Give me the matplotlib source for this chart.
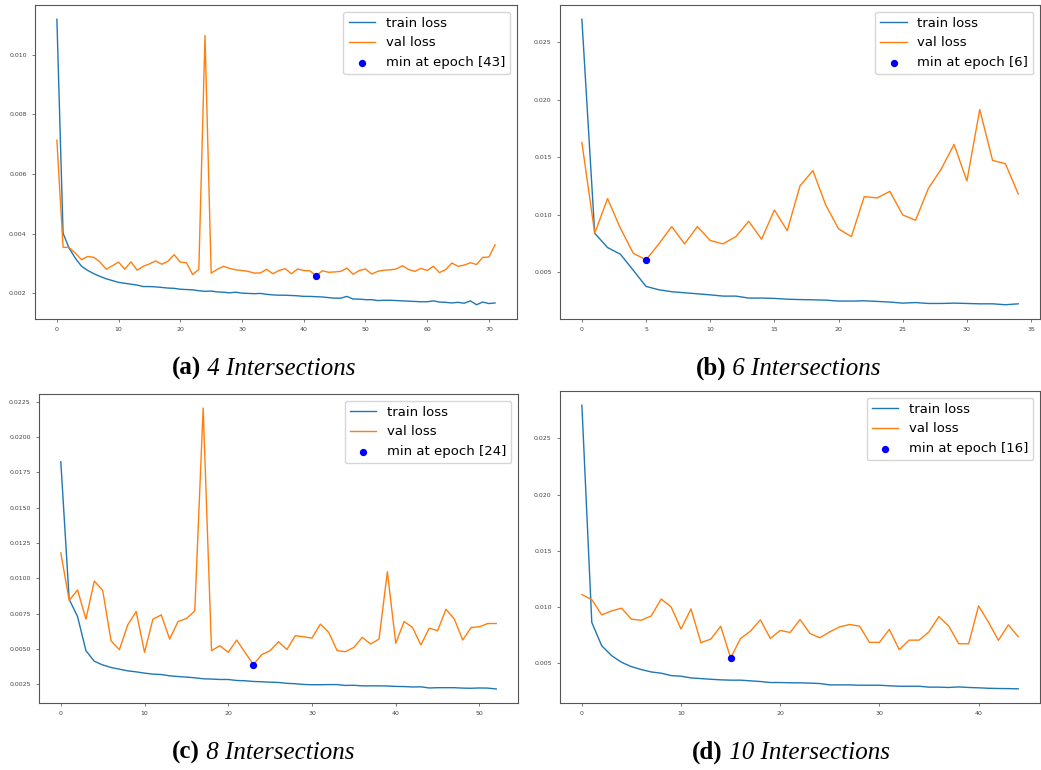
import numpy as np
import matplotlib
matplotlib.use('Agg')
import matplotlib.pyplot as plt

# =============================================================================
# DATA
# =============================================================================

train_a = [0.01119, 0.00401, 0.00350, 0.00317, 0.00290, 0.00276, 0.00265, 0.00256,
           0.00248, 0.00242, 0.00236, 0.00233, 0.00230, 0.00227, 0.00222, 0.00222,
           0.00221, 0.00219, 0.00217, 0.00216, 0.00213, 0.00212, 0.00211, 0.00208,
           0.00206, 0.00207, 0.00204, 0.00203, 0.00201, 0.00203, 0.00200, 0.00199,
           0.00198, 0.00199, 0.00196, 0.00194, 0.00193, 0.00193, 0.00192, 0.00191,
           0.00189, 0.00189, 0.00188, 0.00187, 0.00185, 0.00183, 0.00183, 0.00189,
           0.00180, 0.00180, 0.00178, 0.00178, 0.00175, 0.00176, 0.00176, 0.00175,
           0.00174, 0.00173, 0.00172, 0.00171, 0.00171, 0.00174, 0.00170, 0.00169,
           0.00167, 0.00169, 0.00166, 0.00174, 0.00161, 0.00170, 0.00165, 0.00167]
val_a = [0.00713, 0.00354, 0.00353, 0.00334, 0.00312, 0.00323, 0.00320, 0.00304,
         0.00280, 0.00292, 0.00304, 0.00280, 0.00305, 0.00277, 0.00290, 0.00298,
         0.00308, 0.00297, 0.00307, 0.00329, 0.00304, 0.00302, 0.00262, 0.00280,
         0.01065, 0.00267, 0.00280, 0.00290, 0.00283, 0.00278, 0.00276, 0.00273,
         0.00267, 0.00268, 0.00280, 0.00265, 0.00276, 0.00282, 0.00265, 0.00281,
         0.00276, 0.00275, 0.00258, 0.00275, 0.00270, 0.00271, 0.00273, 0.00284,
         0.00263, 0.00276, 0.00281, 0.00264, 0.00273, 0.00277, 0.00278, 0.00281,
         0.00292, 0.00279, 0.00273, 0.00283, 0.00276, 0.00290, 0.00269, 0.00279,
         0.00301, 0.00290, 0.00294, 0.00302, 0.00296, 0.00320, 0.00321, 0.00362]

train_b = [0.02697, 0.00838, 0.00714, 0.00656, 0.00517, 0.00376, 0.00347, 0.00330,
           0.00321, 0.00312, 0.00303, 0.00292, 0.00292, 0.00275, 0.00275, 0.00272,
           0.00265, 0.00262, 0.00260, 0.00257, 0.00249, 0.00249, 0.00251, 0.00246,
           0.00240, 0.00231, 0.00236, 0.00228, 0.00228, 0.00231, 0.00228, 0.00225,
           0.00225, 0.00217, 0.00225]
val_b = [0.01627, 0.00838, 0.01139, 0.00882, 0.00665, 0.00607, 0.00746, 0.00896,
         0.00746, 0.00896, 0.00775, 0.00746, 0.00809, 0.00942, 0.00786, 0.01040,
         0.00861, 0.01251, 0.01382, 0.01084, 0.00876, 0.00809, 0.01156, 0.01145,
         0.01202, 0.00997, 0.00951, 0.01228, 0.01396, 0.01610, 0.01292, 0.01913,
         0.01471, 0.01442, 0.01179]

train_c = [0.01825, 0.00852, 0.00730, 0.00489, 0.00414, 0.00388, 0.00370, 0.00358,
           0.00346, 0.00339, 0.00330, 0.00323, 0.00320, 0.00311, 0.00306, 0.00302,
           0.00297, 0.00290, 0.00288, 0.00285, 0.00285, 0.00278, 0.00276, 0.00271,
           0.00269, 0.00266, 0.00264, 0.00258, 0.00255, 0.00250, 0.00248, 0.00248,
           0.00249, 0.00249, 0.00243, 0.00244, 0.00240, 0.00240, 0.00240, 0.00239,
           0.00236, 0.00235, 0.00232, 0.00233, 0.00225, 0.00227, 0.00227, 0.00227,
           0.00224, 0.00223, 0.00225, 0.00224, 0.00218]
val_c = [0.01180, 0.00845, 0.00918, 0.00712, 0.00981, 0.00916, 0.00559, 0.00496,
         0.00672, 0.00766, 0.00477, 0.00712, 0.00742, 0.00571, 0.00695, 0.00716,
         0.00770, 0.02205, 0.00489, 0.00524, 0.00477, 0.00564, 0.00477, 0.00390,
         0.00461, 0.00489, 0.00552, 0.00497, 0.00595, 0.00587, 0.00578, 0.00677,
         0.00618, 0.00489, 0.00482, 0.00512, 0.00583, 0.00536, 0.00571, 0.01047,
         0.00541, 0.00695, 0.00653, 0.00529, 0.00648, 0.00630, 0.00782, 0.00712,
         0.00564, 0.00653, 0.00658, 0.00681, 0.00681]

train_d = [0.02795, 0.00863, 0.00656, 0.00568, 0.00509, 0.00470, 0.00444, 0.00423,
           0.00412, 0.00391, 0.00385, 0.00370, 0.00364, 0.00358, 0.00353, 0.00350,
           0.00350, 0.00344, 0.00338, 0.00329, 0.00329, 0.00327, 0.00326, 0.00324,
           0.00320, 0.00308, 0.00308, 0.00308, 0.00305, 0.00305, 0.00305, 0.00300,
           0.00296, 0.00296, 0.00296, 0.00288, 0.00288, 0.00285, 0.00290, 0.00285,
           0.00282, 0.00278, 0.00276, 0.00275, 0.00273]
val_d = [0.01111, 0.01066, 0.00931, 0.00966, 0.00990, 0.00892, 0.00883, 0.00922,
         0.01072, 0.01001, 0.00804, 0.00984, 0.00683, 0.00715, 0.00830, 0.00547,
         0.00721, 0.00786, 0.00886, 0.00721, 0.00792, 0.00774, 0.00889, 0.00765,
         0.00727, 0.00780, 0.00824, 0.00845, 0.00830, 0.00686, 0.00686, 0.00801,
         0.00621, 0.00706, 0.00706, 0.00780, 0.00916, 0.00830, 0.00674, 0.00674,
         0.01010, 0.00866, 0.00704, 0.00842, 0.00736]

letters = ['(a)', '(b)', '(c)', '(d)']
captions = ['4 Intersections', '6 Intersections', '8 Intersections', '10 Intersections']

# =============================================================================
# PLOT
# =============================================================================

fig = plt.figure(figsize=(10.41, 7.70), dpi=100)

positions = [[0.0336, 0.5857, 0.4630, 0.4078],
             [0.5380, 0.5857, 0.4611, 0.4078],
             [0.0375, 0.0870, 0.4601, 0.4013],
             [0.5380, 0.0870, 0.4611, 0.4052]]
caption_xy = [(0.2536, 0.513), (0.757, 0.513), (0.2526, 0.0143), (0.760, 0.0143)]

series = [(train_a, val_a), (train_b, val_b), (train_c, val_c), (train_d, val_d)]

for pos, (train, val) in zip(positions, series):
    ax = fig.add_axes(pos)
    epochs = np.arange(len(train))
    ax.plot(epochs, train, color='#1f77b4', lw=1.0, label='train loss')
    ax.plot(epochs, val, color='#ff7f0e', lw=1.0, label='val loss')
    i_min = int(np.argmin(val))
    ax.scatter(i_min, val[i_min], color='blue', s=18, zorder=3,
               label='min at epoch [%d]' % (i_min + 1))
    ax.legend(loc='upper right', fontsize=9.5)
    ax.tick_params(labelsize=4.5, colors='#444444', length=2.5, width=0.5)
    for sp in ax.spines.values():
        sp.set_color('#555555')
        sp.set_linewidth(0.8)

# captions: bold letter + italic text
renderer = fig.canvas.get_renderer()
for (cx, cy), let, cap in zip(caption_xy, letters, captions):
    t1 = fig.text(0, cy, let, fontsize=18, fontweight='bold',
                  family='Liberation Serif', va='baseline', ha='left')
    t2 = fig.text(0, cy, ' ' + cap, fontsize=18, fontstyle='italic',
                  family='Liberation Serif', va='baseline', ha='left')
    w1 = t1.get_window_extent(renderer).width / fig.bbox.width
    w2 = t2.get_window_extent(renderer).width / fig.bbox.width
    x0 = cx - (w1 + w2) / 2
    t1.set_x(x0)
    t2.set_x(x0 + w1)

plt.savefig('out.png', dpi=100)
